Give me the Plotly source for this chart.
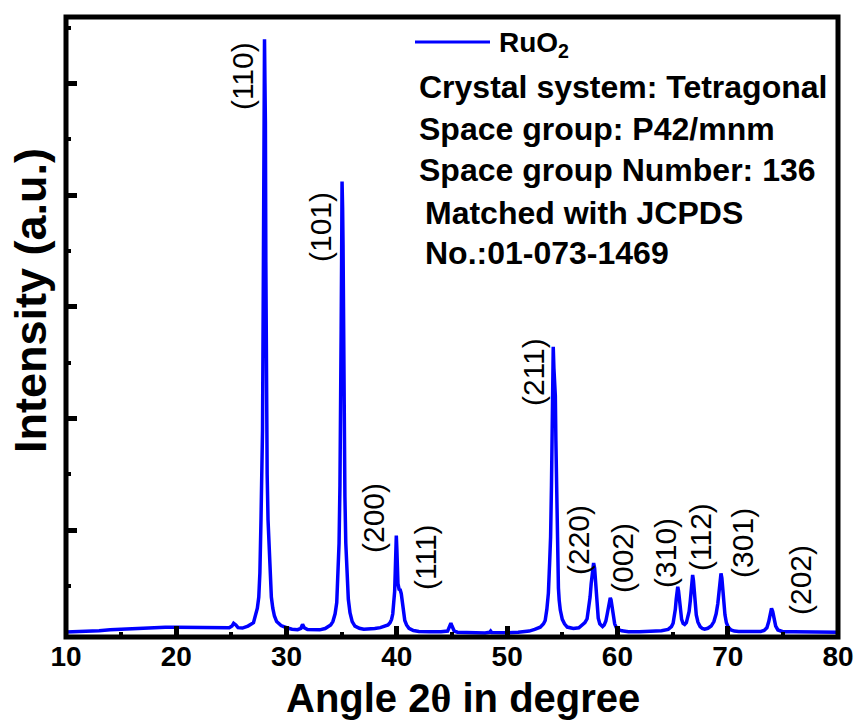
import plotly.graph_objects as go

# ---------------- data ----------------
two_theta = [
    10.0, 11.0, 12.0, 13.0, 14.0, 15.0, 16.0, 17.0, 18.0, 19.0, 20.0, 21.0, 22.0, 23.0, 24.0,
    24.8, 25.05, 25.2, 25.4, 25.6, 26.0, 26.5, 27.0, 27.2, 27.35, 27.48, 27.58, 27.68, 27.76,
    27.82, 27.88, 27.92, 27.96, 28.0, 28.04, 28.08, 28.12, 28.17, 28.24, 28.32, 28.45, 28.52,
    28.62, 28.75, 28.9, 29.1, 29.5, 30.0, 30.5, 31.0, 31.3, 31.45, 31.6, 31.9, 32.5, 33.0, 33.5,
    34.0, 34.2, 34.4, 34.55, 34.68, 34.76, 34.84, 34.9, 34.95, 35.0, 35.03, 35.08, 35.12, 35.16,
    35.21, 35.29, 35.37, 35.48, 35.6, 35.75, 35.95, 36.2, 36.6, 37.0, 37.5, 38.0, 38.5, 38.95,
    39.2, 39.38, 39.52, 39.63, 39.73, 39.8, 39.85, 39.9, 39.95, 40.0, 40.05, 40.1, 40.2, 40.3,
    40.4, 40.5, 40.6, 40.72, 40.88, 41.1, 41.5, 42.0, 43.0, 44.0, 44.6, 44.8, 44.9, 45.0, 45.2,
    45.5, 46.0, 47.0, 48.0, 48.4, 48.5, 48.6, 49.0, 50.0, 51.0, 52.0, 52.5, 53.0, 53.3, 53.45,
    53.6, 53.74, 53.85, 53.94, 54.02, 54.08, 54.14, 54.18, 54.24, 54.3, 54.37, 54.42, 54.47,
    54.52, 54.57, 54.65, 54.72, 54.82, 55.0, 55.2, 55.45, 56.0, 56.5, 56.8, 57.05, 57.25, 57.4,
    57.52, 57.62, 57.72, 57.84, 57.93, 58.0, 58.08, 58.16, 58.26, 58.4, 58.55, 58.65, 58.8,
    58.95, 59.08, 59.2, 59.3, 59.35, 59.42, 59.52, 59.62, 59.75, 59.9, 60.1, 60.4, 61.0, 62.0,
    63.0, 64.0, 64.6, 64.9, 65.05, 65.15, 65.25, 65.33, 65.4, 65.47, 65.54, 65.62, 65.72, 65.82,
    65.95, 66.1, 66.25, 66.4, 66.5, 66.6, 66.68, 66.75, 66.82, 66.89, 66.97, 67.05, 67.15, 67.3,
    67.5, 67.7, 67.9, 68.2, 68.5, 68.75, 68.95, 69.1, 69.2, 69.3, 69.39, 69.47, 69.56, 69.65,
    69.75, 69.88, 70.05, 70.3, 70.6, 71.0, 72.0, 73.0, 73.3, 73.55, 73.72, 73.85, 73.97, 74.08,
    74.2, 74.35, 74.55, 74.8, 75.0, 76.0, 77.0, 78.0, 79.0, 80.0,
]

intensity = [
    86, 88, 92, 98, 106, 112, 118, 124, 128, 130, 130, 129, 127, 124, 122,
    124, 140, 165, 150, 126, 122, 140, 170, 230, 300, 400, 615, 1090, 1500,
    1897, 3000, 4650, 5100, 5394, 5000, 4650, 3400, 2300, 1500, 1090, 700, 615,
    400, 300, 230, 180, 145, 125, 112, 108, 120, 155, 125, 108, 104, 106, 118,
    150, 180, 250, 350, 600, 884, 1400, 1897, 2800, 3555, 4121, 3887, 3555, 2600,
    1897, 1300, 884, 550, 380, 260, 180, 140, 120, 112, 112, 118, 126, 137,
    150, 170, 200, 250, 350, 450, 612, 826, 950, 830, 640, 520, 470, 465,
    430, 340, 250, 190, 150, 120, 100, 92, 90, 88, 95, 140, 165, 140, 95,
    85, 82, 78, 78, 84, 95, 82, 80, 80, 85, 95, 110, 130, 160, 190,
    290, 435, 700, 938, 1400, 1745, 2400, 2641, 2450, 2300, 2200, 1800, 1420,
    1000, 704, 480, 370, 283, 200, 160, 131, 118, 125, 145, 170, 205, 290,
    400, 520, 640, 704, 660, 560, 430, 300, 210, 160, 138, 135, 150,
    185, 250, 330, 385, 393, 375, 300, 220, 160, 125, 108, 97, 90, 90,
    92, 98, 110, 135, 165, 210, 290, 380, 450, 492, 455, 370, 270, 200,
    165, 155, 170, 215, 270, 360, 460, 550, 597, 550, 440, 330, 240, 175,
    135, 118, 112, 120, 140, 180, 250, 340, 450, 560, 612, 570, 460, 340,
    240, 170, 130, 105, 95, 92, 90, 92, 100, 125, 180, 250, 298, 270,
    200, 140, 105, 92, 90, 88, 86, 88, 85, 84,
]

peak_labels = ["(110)", "(101)", "(200)", "(111)", "(211)", "(220)",
               "(002)", "(310)", "(112)", "(301)", "(202)"]
label_x = [25.96, 33.03, 37.83, 42.55, 52.34, 56.42, 60.41, 64.31, 67.48, 71.38, 76.55]
label_y = [5065, 3713, 1107, 758, 2414, 910, 749, 794, 937, 884, 552]

x_ticks = [10, 20, 30, 40, 50, 60, 70, 80]
x_tick_text = ["10", "20", "30", "40", "50", "60", "70", "80"]

series_name = "RuO<sub>2</sub>"
info_lines = ["Crystal system: Tetragonal", "Space group: P42/mnm",
              "Space group Number: 136", "Matched with JCPDS", "No.:01-073-1469"]

# ---------------- figure ----------------
FONT = "Liberation Sans, Arial, sans-serif"
L, R, T, B = 66, 17, 17, 85
W, H = 855, 722
PW, PH = W - L - R, H - T - B


def px_x(p):
    return (p - L) / PW


def px_y(p):
    return (H - B - p) / PH


fig = go.Figure()
fig.add_trace(go.Scatter(x=two_theta, y=intensity, mode="lines",
                         line=dict(color="#0000FF", width=3.5),
                         name="RuO2", showlegend=False))

annotations = []
for txt, lx, ly in zip(peak_labels, label_x, label_y):
    annotations.append(dict(x=lx, y=ly, xref="x", yref="y", text=txt, textangle=-90,
                            showarrow=False, xanchor="center", yanchor="middle",
                            font=dict(family=FONT, size=30, color="black")))

# legend-like entry
annotations.append(dict(x=px_x(497), y=px_y(44), xref="paper", yref="paper",
                        text=series_name, showarrow=False, xanchor="left", yanchor="middle",
                        font=dict(family=FONT, size=28, color="black", weight="bold")))

info_y = [87, 129, 170, 213, 253]
info_x = [417, 417, 417, 423, 423]
for txt, xx, yy in zip(info_lines, info_x, info_y):
    annotations.append(dict(x=px_x(xx), y=px_y(yy), xref="paper", yref="paper",
                            text=txt, showarrow=False, xanchor="left", yanchor="middle",
                            font=dict(family=FONT, size=32, color="black", weight="bold")))

# axis titles
annotations.append(dict(x=px_x(463), y=px_y(698), xref="paper", yref="paper",
                        text="Angle 2<span style='font-family:Liberation Serif'>θ</span> in degree",
                        showarrow=False, xanchor="center", yanchor="middle",
                        font=dict(family=FONT, size=40, color="black", weight="bold")))
annotations.append(dict(x=px_x(31), y=px_y(301), xref="paper", yref="paper",
                        text="Intensity (a.u.)", textangle=-90,
                        showarrow=False, xanchor="center", yanchor="middle",
                        font=dict(family=FONT, size=45, color="black", weight="bold")))

shapes = [
    dict(type="rect", xref="paper", yref="paper", x0=0, x1=1, y0=0, y1=1,
         line=dict(color="black", width=5), layer="above"),
    dict(type="line", xref="paper", yref="paper", x0=px_x(415), x1=px_x(490),
         y0=px_y(42), y1=px_y(42), line=dict(color="#0000FF", width=3)),
]

fig.update_layout(
    width=W, height=H, autosize=False,
    margin=dict(l=L, r=R, t=T, b=B, pad=0, autoexpand=False),
    paper_bgcolor="white", plot_bgcolor="white",
    showlegend=False,
    annotations=annotations,
    shapes=shapes,
    xaxis=dict(range=[10, 80], tickvals=x_ticks, ticktext=x_tick_text, automargin=False,
               ticks="inside", ticklen=11, tickwidth=5, tickcolor="black",
               minor=dict(dtick=5, tick0=0, ticks="inside", ticklen=5, tickwidth=4,
                          tickcolor="black", showgrid=False),
               showgrid=False, zeroline=False, showline=False,
               tickfont=dict(family=FONT, size=28, color="black", weight="bold")),
    yaxis=dict(range=[42, 5594], tick0=0, dtick=1000, automargin=False,
               ticks="inside", ticklen=11, tickwidth=5, tickcolor="black",
               minor=dict(dtick=500, tick0=0, ticks="inside", ticklen=5, tickwidth=4,
                          tickcolor="black", showgrid=False),
               showticklabels=False, showgrid=False, zeroline=False, showline=False),
)

fig.write_html("out.html")
